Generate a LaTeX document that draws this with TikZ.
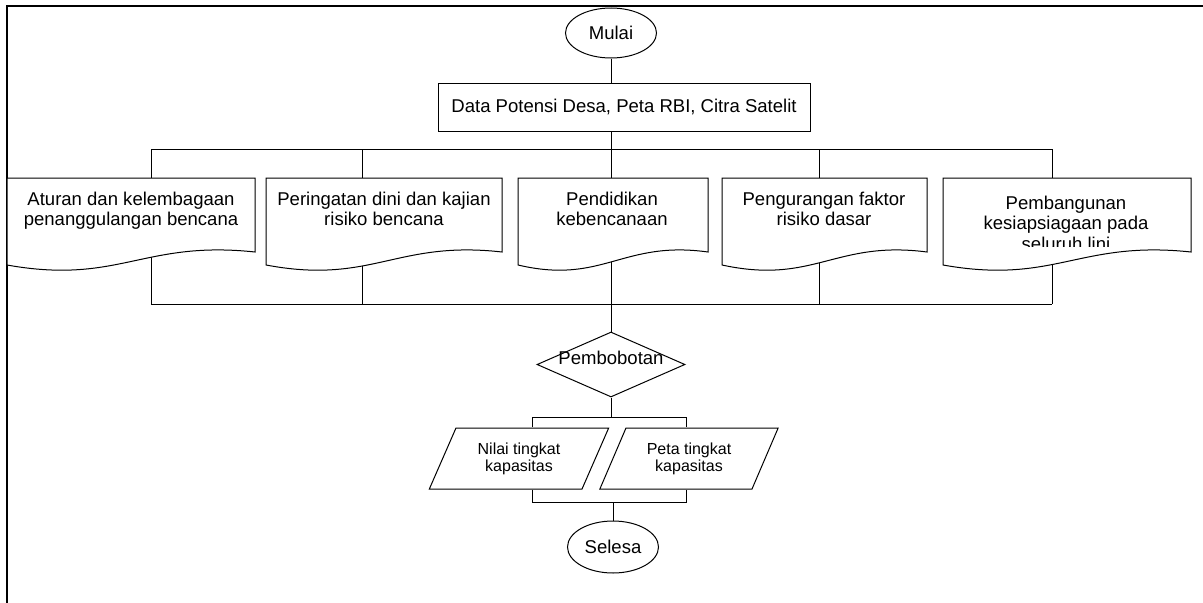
\documentclass[tikz,border=0pt]{standalone}
\usepackage{fontspec}
\setmainfont{Liberation Sans}
\usetikzlibrary{shapes.geometric}

\begin{document}
\begin{tikzpicture}[x=0.75pt,y=-0.75pt,
  every node/.style={font=\fontsize{13.9}{15.4}\selectfont, align=center},
  garis/.style={draw=black, line width=0.75pt},
  terminal/.style={garis, ellipse, inner sep=0pt, minimum width=68.25pt, minimum height=37.5pt},
  proses/.style={garis, rectangle, inner sep=0pt, minimum width=279pt, minimum height=36pt},
  keputusan/.style={garis, diamond, aspect=2.28, inner sep=0pt, minimum width=111pt, minimum height=48.75pt},
  keluaran/.style={garis, trapezium, trapezium stretches=true, trapezium left angle=64.6,
    trapezium right angle=115.4, minimum width=135pt, minimum height=45.75pt,
    font=\fontsize{12}{12.75}\selectfont},
  dokumen/.style={garis, fill=white}]
  \useasboundingbox (0,0) rectangle (1203,603);
  \draw[line width=1.5pt] (7,603) -- (7,6) -- (1203,6);

  \node[terminal] (mulai) at (611,33) {Mulai};
  \node[proses] (data) at (624,107) {Data Potensi Desa, Peta RBI, Citra Satelit};
  \node[keputusan] (bobot) at (611,364.5) {\smash{Pembobotan}};
  \node[keluaran] (nilai) at (519,458.5) {Nilai tingkat\\kapasitas};
  \node[keluaran] (peta) at (689,458.5) {Peta tingkat\\kapasitas};
  \node[terminal, minimum height=39pt] (selesa) at (613,547) {Selesa};

  % titik cabang
  \coordinate (a1) at (151,149);
  \coordinate (a2) at (362,149);
  \coordinate (a3) at (611,149);
  \coordinate (a4) at (819,149);
  \coordinate (a5) at (1052,149);
  \coordinate (b1) at (151,304);
  \coordinate (b2) at (362,304);
  \coordinate (b3) at (611,304);
  \coordinate (b4) at (819,304);
  \coordinate (b5) at (1052,304);
  \coordinate (c1) at (532,417);
  \coordinate (c2) at (686,417);
  \coordinate (e1) at (532,502);
  \coordinate (e2) at (686,502);

  \draw[garis] (mulai.south) -- (mulai.south |- data.north);
  \draw[garis] (data.south -| a3) -- (a3);
  \draw[garis] (a1) -- (a5);
  \draw[garis] (b1) -- (b5);
  \draw[garis] (a1) -- (b1);
  \draw[garis] (a2) -- (b2);
  \draw[garis] (a3) -- (b3);
  \draw[garis] (a4) -- (b4);
  \draw[garis] (a5) -- (b5);
  \draw[garis] (b3) -- (bobot.north);
  \draw[garis] (bobot.south) -- (bobot.south |- c1);
  \draw[garis] (c1 |- nilai.north) -- (c1) -- (c2) -- (c2 |- peta.north);
  \draw[garis] (e1 |- nilai.south) -- (e1) -- (e2) -- (e2 |- peta.south);
  \draw[garis] (selesa.north |- e1) -- (selesa.north);

  % dokumen
  \draw[dokumen] (7,178) -- (255,178) -- (255,252) .. controls (143,240) and (119,285) .. (7,265) -- cycle;
  \node[anchor=north] (aturan) at (131,187) {Aturan dan kelembagaan\\penanggulangan bencana};
  \draw[dokumen] (266,178) -- (502,178) -- (502,252) .. controls (396,240) and (372,285) .. (266,265) -- cycle;
  \node[anchor=north] (peringatan) at (384,187) {Peringatan dini dan kajian\\risiko bencana};
  \draw[dokumen] (518,178) -- (708,178) -- (708,252) .. controls (622,240) and (603,285) .. (518,265) -- cycle;
  \node[anchor=north] (pendidikan) at (612,187) {Pendidikan\\kebencanaan};
  \draw[dokumen] (722,178) -- (927,178) -- (927,252) .. controls (835,240) and (814,285) .. (722,265) -- cycle;
  \node[anchor=north] (pengurangan) at (824,187) {Pengurangan faktor\\risiko dasar};
  \draw[dokumen] (943,178) -- (1191,178) -- (1191,252) .. controls (1079,240) and (1055,285) .. (943,265) -- cycle;
  \begin{scope}
    \clip (943,178) rectangle (1191,246);
    \node[anchor=north] (pembangunan) at (1066,191) {Pembangunan\\kesiapsiagaan pada\\seluruh lini};
  \end{scope}
\end{tikzpicture}
\end{document}
